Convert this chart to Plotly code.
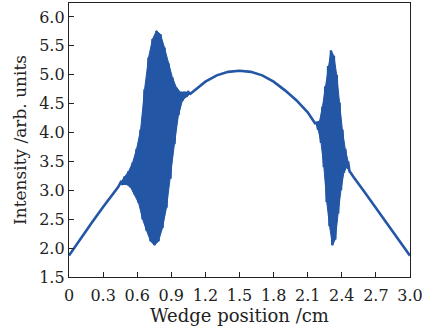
import plotly.graph_objects as go

# smooth part of the curve
base_left_x = [0.0, 0.1, 0.2, 0.3, 0.4, 0.434]
base_left_y = [1.87, 2.16, 2.44, 2.71, 2.98, 3.06]

base_mid_x = [1.093, 1.2, 1.3, 1.4, 1.5, 1.6, 1.7, 1.8, 1.9, 2.0, 2.1, 2.164]
base_mid_y = [4.71, 4.88, 4.99, 5.05, 5.07, 5.05, 4.99, 4.88, 4.73, 4.56, 4.35, 4.16]

base_right_x = [2.48, 2.5, 2.6, 2.7, 2.8, 2.9, 3.0]
base_right_y = [3.30, 3.24, 2.97, 2.70, 2.42, 2.15, 1.87]

# left oscillation burst: peaks and troughs
burst1_peak_x = [0.455, 0.49, 0.525, 0.56, 0.595, 0.63, 0.665, 0.70, 0.735, 0.77,
                 0.805, 0.84, 0.875, 0.91, 0.945, 0.98, 1.015, 1.05]
burst1_peak_y = [3.14, 3.24, 3.33, 3.48, 3.72, 4.05, 4.75, 5.30, 5.62, 5.76,
                 5.70, 5.47, 5.20, 4.95, 4.78, 4.70, 4.70, 4.70]
burst1_trough_x = [0.4725, 0.5075, 0.5425, 0.5775, 0.6125, 0.6475, 0.6825, 0.7175, 0.7525,
                   0.7875, 0.8225, 0.8575, 0.8925, 0.9275, 0.9625, 0.9975, 1.0325, 1.0675]
burst1_trough_y = [3.10, 3.10, 3.05, 2.93, 2.78, 2.50, 2.30, 2.12, 2.05,
                   2.12, 2.35, 2.70, 3.20, 3.80, 4.30, 4.55, 4.62, 4.67]

# right oscillation burst: peaks and troughs
burst2_peak_x = [2.18, 2.205, 2.23, 2.255, 2.28, 2.305, 2.33, 2.355, 2.38, 2.405, 2.43, 2.455]
burst2_peak_y = [4.17, 4.20, 4.45, 4.80, 5.15, 5.42, 5.33, 5.00, 4.52, 4.05, 3.72, 3.50]
burst2_trough_x = [2.1925, 2.2175, 2.2425, 2.2675, 2.2925, 2.3175, 2.3425, 2.3675, 2.3925,
                   2.4175, 2.4425, 2.4675]
burst2_trough_y = [4.05, 3.82, 3.40, 2.80, 2.38, 2.05, 2.15, 2.60, 3.00,
                   3.30, 3.40, 3.33]

x_ticks = [0, 0.3, 0.6, 0.9, 1.2, 1.5, 1.8, 2.1, 2.4, 2.7, 3.0]
x_tick_text = ["0", "0.3", "0.6", "0.9", "1.2", "1.5", "1.8", "2.1", "2.4", "2.7", "3.0"]
y_ticks = [1.5, 2.0, 2.5, 3.0, 3.5, 4.0, 4.5, 5.0, 5.5, 6.0]


def merge(px, py, tx, ty):
    pts = sorted(list(zip(px, py)) + list(zip(tx, ty)))
    return [p[0] for p in pts], [p[1] for p in pts]


b1x, b1y = merge(burst1_peak_x, burst1_peak_y, burst1_trough_x, burst1_trough_y)
b2x, b2y = merge(burst2_peak_x, burst2_peak_y, burst2_trough_x, burst2_trough_y)

xs = base_left_x + b1x + base_mid_x + b2x + base_right_x
ys = base_left_y + b1y + base_mid_y + b2y + base_right_y

color = "#2456a6"
serif = "DejaVu Serif"

fig = go.Figure()
# filled envelopes of the dense oscillations
for px, py, tx, ty in [(burst1_peak_x, burst1_peak_y, burst1_trough_x, burst1_trough_y),
                       (burst2_peak_x, burst2_peak_y, burst2_trough_x, burst2_trough_y)]:
    fig.add_trace(go.Scatter(x=px + tx[::-1], y=py + ty[::-1], mode="lines",
                             fill="toself", fillcolor=color,
                             line=dict(color=color, width=1),
                             hoverinfo="skip", showlegend=False))
fig.add_trace(go.Scatter(x=xs, y=ys, mode="lines",
                         line=dict(color=color, width=2.6),
                         hoverinfo="skip", showlegend=False))

fig.update_layout(
    width=436, height=329,
    margin=dict(l=69, r=26, t=3, b=52),
    paper_bgcolor="white", plot_bgcolor="white",
    font=dict(family=serif, size=16, color="#222222"),
    xaxis=dict(range=[0, 3.0], tickvals=x_ticks, ticktext=x_tick_text,
               ticks="inside", ticklen=5, tickwidth=1, tickcolor="#222222",
               showline=True, linecolor="#222222", linewidth=1.2, mirror=True,
               showgrid=False, zeroline=False, automargin=False,
               ticklabelstandoff=4,
               tickfont=dict(family=serif, size=16),
               title=dict(text="Wedge position /cm", font=dict(family=serif, size=18),
                          standoff=0)),
    yaxis=dict(range=[1.5, 6.242], tickvals=y_ticks, tickformat=".1f",
               ticks="inside", ticklen=5, tickwidth=1, tickcolor="#222222",
               showline=True, linecolor="#222222", linewidth=1.2, mirror=True,
               showgrid=False, zeroline=False, automargin=False,
               tickfont=dict(family=serif, size=16),
               title=dict(text="Intensity /arb. units", font=dict(family=serif, size=17),
                          standoff=8)),
)

fig.write_html("out.html", config={"displayModeBar": False, "staticPlot": True},
               post_script="document.body.style.margin='0';document.body.style.padding='0';")
